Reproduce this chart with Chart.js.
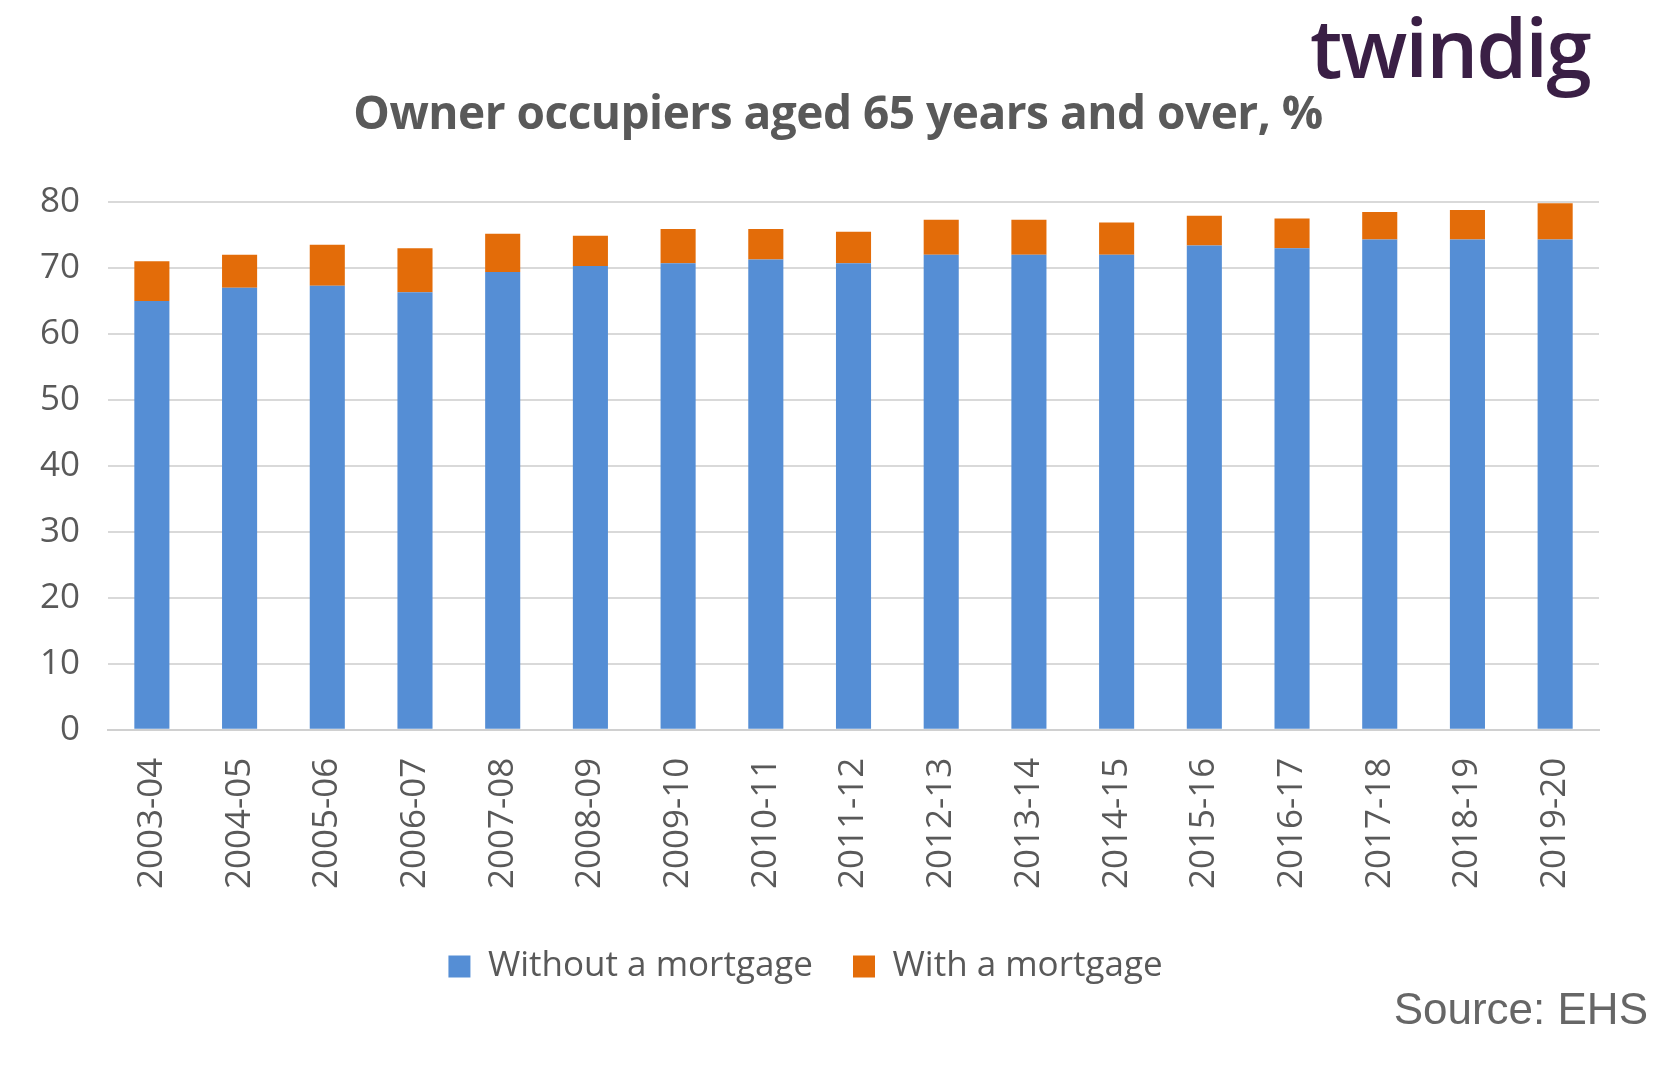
<!DOCTYPE html>
<html><head><meta charset="utf-8">
<script src="https://cdn.jsdelivr.net/npm/chart.js@4/dist/chart.umd.min.js"></script>
<style>
body{margin:0;background:#fff;width:1676px;height:1067px;overflow:hidden;position:relative;font-family:Calibri,Carlito,"Open Sans",sans-serif}
#wrap{position:absolute;left:0;top:0;width:1676px;height:1067px}
#title{position:absolute;top:80px;left:0;width:1676px;text-align:center;font-size:46px;font-weight:bold;color:#595959;font-family:"Open Sans",sans-serif;letter-spacing:-0.5px}
#logo{position:absolute;top:-10px;left:1310px;font-size:82px;color:#3a1f45;font-family:"Open Sans",sans-serif;font-weight:600;letter-spacing:-2px}
#src{position:absolute;top:984px;right:28px;font-size:44px;color:#666;font-family:"Liberation Sans",Arial,sans-serif}
</style></head><body>
<div id="wrap"><canvas id="c" width="1676" height="1067"></canvas></div>
<div id="title">Owner occupiers aged 65 years and over, %</div>
<div id="logo">twindig</div>
<div id="src">Source: EHS</div>
<script>
const categories=["2003-04","2004-05","2005-06","2006-07","2007-08","2008-09","2009-10","2010-11","2011-12","2012-13","2013-14","2014-15","2015-16","2016-17","2017-18","2018-19","2019-20"];
const withoutMortgage=[65,67,67.3,66.3,69.4,70.3,70.7,71.3,70.7,72,72,72,73.4,73,74.3,74.3,74.3];
const withMortgage=[6,5,6.2,6.7,5.8,4.6,5.2,4.6,4.8,5.3,5.3,4.9,4.5,4.5,4.2,4.5,5.5];
const yTicks=[0,10,20,30,40,50,60,70,80];
new Chart(document.getElementById('c'),{type:'bar',
data:{labels:categories,datasets:[
{label:'Without a mortgage',data:withoutMortgage,backgroundColor:'#558ed5',barPercentage:0.4,categoryPercentage:1},
{label:'With a mortgage',data:withMortgage,backgroundColor:'#e36c09',barPercentage:0.4,categoryPercentage:1}]},
options:{responsive:false,animation:false,
layout:{padding:{top:202,left:12,right:77,bottom:73}},
plugins:{legend:{position:'bottom',labels:{font:{size:35,family:'"Open Sans",sans-serif'},color:'#595959',boxWidth:22,boxHeight:22,padding:40}},tooltip:{enabled:false}},
scales:{x:{stacked:true,grid:{display:false},border:{color:'#d0d0d0',width:2},ticks:{padding:20,color:'#595959',font:{size:35,family:'"Open Sans",sans-serif'},maxRotation:90,minRotation:90}},
y:{stacked:true,min:0,max:80,afterBuildTicks:a=>{a.ticks=yTicks.map(v=>({value:v}))},grid:{color:'#d9d9d9',lineWidth:2,drawTicks:false},border:{display:false},ticks:{padding:28,color:'#595959',font:{size:35,family:'"Open Sans",sans-serif'}}}}}});
</script></body></html>
